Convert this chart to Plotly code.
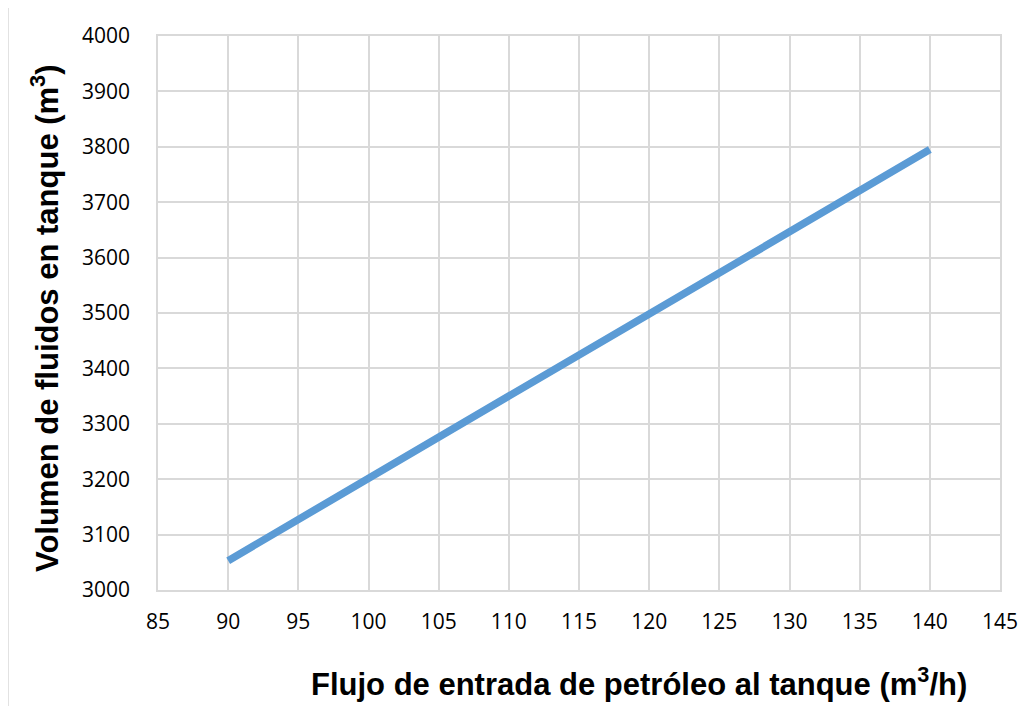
import plotly.graph_objects as go

# Data
flow = [90, 100, 110, 120, 130, 140]
volume = [3053, 3200, 3350, 3498, 3647, 3795]

x_ticks = [85, 90, 95, 100, 105, 110, 115, 120, 125, 130, 135, 140, 145]
y_ticks = [3000, 3100, 3200, 3300, 3400, 3500, 3600, 3700, 3800, 3900, 4000]

x_title = "<b>Flujo de entrada de petróleo al tanque (m<sup>3</sup>/h)</b>"
y_title = "<b>Volumen de fluidos en tanque (m<sup>3</sup>)</b>"

W, H = 1036, 706
# plot area in page pixels
PL, PR, PT, PB = 158, 1000, 36, 590
OFF = 8  # default page body margin
L = PL - OFF
T = PT - OFF
R = W - (PR - OFF)
B = H - (PB - OFF)
pw, ph = PR - PL, PB - PT

def px(x):
    return (x - PL) / pw

def py(y):
    return (PB - y) / ph

grid = "#d9d9d9"

fig = go.Figure()
fig.add_trace(go.Scatter(
    x=flow, y=volume, mode="lines",
    line=dict(color="#5b9bd5", width=7.5),
    showlegend=False, hoverinfo="skip",
))

fig.update_layout(
    width=W, height=H,
    margin=dict(l=L, r=R, t=T, b=B),
    paper_bgcolor="white", plot_bgcolor="white",
    font=dict(family="Open Sans", size=21, color="#000000"),
    xaxis=dict(
        range=[85, 145], tickvals=x_ticks, ticktext=[str(v) for v in x_ticks],
        showgrid=True, gridcolor=grid, gridwidth=1.5,
        showline=True, linecolor=grid, linewidth=1.5, mirror=True,
        ticks="outside", ticklen=12, tickcolor="rgba(0,0,0,0)",
        zeroline=False, fixedrange=True,
    ),
    yaxis=dict(
        range=[3000, 4000], tickvals=y_ticks, ticktext=[str(v) for v in y_ticks],
        showgrid=True, gridcolor=grid, gridwidth=1.5,
        showline=True, linecolor=grid, linewidth=1.5, mirror=True,
        ticks="outside", ticklen=22, tickcolor="rgba(0,0,0,0)",
        zeroline=False, fixedrange=True,
    ),
    shapes=[dict(
        type="rect", xref="paper", yref="paper",
        x0=px(8), x1=px(W + 20), y0=py(H + 20), y1=py(7),
        line=dict(color="#d9d9d9", width=1.5), fillcolor="rgba(0,0,0,0)",
        layer="below",
    )],
    annotations=[
        dict(text=x_title, xref="paper", yref="paper",
             x=px(639), y=py(682), xanchor="center", yanchor="middle",
             showarrow=False,
             font=dict(family="Liberation Sans", size=31, color="#000000")),
        dict(text=y_title, xref="paper", yref="paper",
             x=px(45), y=py(318), xanchor="center", yanchor="middle",
             showarrow=False, textangle=-90,
             font=dict(family="Liberation Sans", size=31, color="#000000")),
    ],
)

fig.write_html("out.html")
